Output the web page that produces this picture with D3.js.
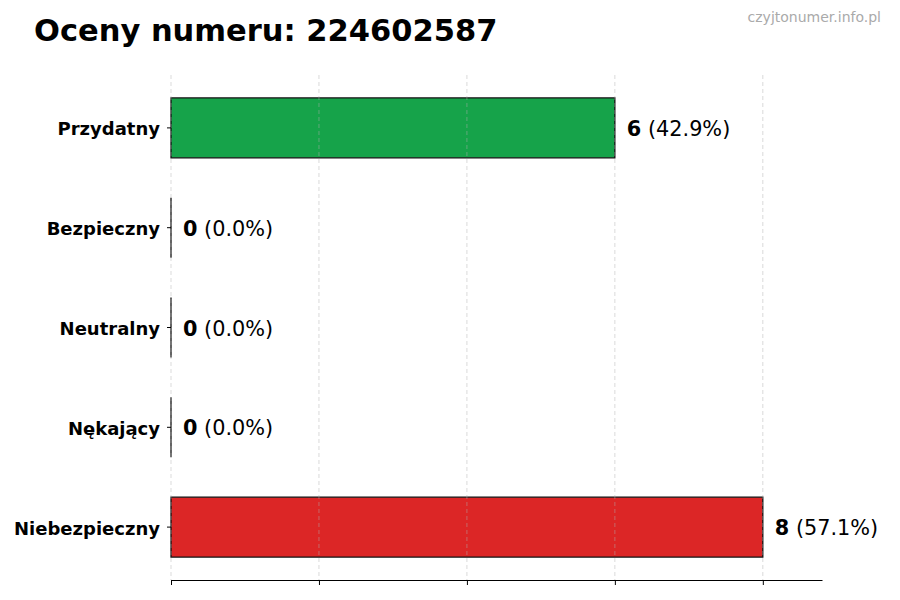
<!DOCTYPE html>
<html>
<head>
<meta charset="utf-8">
<script src="https://cdn.jsdelivr.net/npm/d3@7"></script>
<style>
  body { margin: 0; background: white; }
  svg { font-family: "DejaVu Sans", sans-serif; }
</style>
</head>
<body>
<div id="chart"></div>
<script>
// Chart data
const categories = ["Przydatny", "Bezpieczny", "Neutralny", "Nękający", "Niebezpieczny"];
const counts = [6, 0, 0, 0, 8];
const barColors = ["#16a34a", "#9ca3af", "#6b7280", "#f97316", "#dc2626"];
const xTicks = [0, 2, 4, 6, 8];
const phoneNumber = "224602587";

const total = d3.sum(counts);

const svg = d3.select("#chart")
  .append("svg")
  .attr("width", 900)
  .attr("height", 600);

const margin = { top: 75, right: 78, bottom: 20, left: 171 };
const plotW = 900 - margin.left - margin.right;
const plotH = 580 - margin.top;

const g = svg.append("g")
  .attr("transform", `translate(${margin.left},${margin.top})`);

// Scales
const x = d3.scaleLinear()
  .domain([0, d3.max(counts) * 1.1])
  .range([0, plotW]);

const y = d3.scaleBand()
  .domain(categories)
  .range([0, plotH])
  .paddingInner(0.4)
  .paddingOuter(0.23);

// Bars as paths so zero-width bars still show their edge
g.selectAll(".bar")
  .data(categories)
  .enter()
  .append("path")
  .attr("class", "bar")
  .attr("d", (d, i) => {
    const w = x(counts[i]);
    const y0 = y(d);
    const h = y.bandwidth();
    return `M0,${y0}h${w}v${h}h${-w}Z`;
  })
  .attr("fill", (d, i) => barColors[i])
  .attr("stroke", "#111")
  .attr("stroke-width", 1.3);

// Grid lines (drawn on top, faint)
g.selectAll(".grid")
  .data(xTicks)
  .enter()
  .append("line")
  .attr("class", "grid")
  .attr("x1", d => x(d))
  .attr("x2", d => x(d))
  .attr("y1", 0)
  .attr("y2", plotH)
  .attr("stroke", "#b0b0b0")
  .attr("stroke-opacity", 0.6)
  .attr("stroke-dasharray", "4,3")
  .attr("stroke-width", 0.8);

// Bottom axis: ticks only, no labels
const xAxis = g.append("g")
  .attr("transform", `translate(0,${plotH})`)
  .call(d3.axisBottom(x).tickValues(xTicks).tickSize(5).tickFormat("").tickSizeOuter(0));
xAxis.select(".domain").attr("stroke", "#000").attr("stroke-width", 1);
xAxis.selectAll(".tick line").attr("stroke", "#000");

// Left axis: tick marks and bold labels, no spine
const yAxis = g.append("g")
  .call(d3.axisLeft(y).tickSize(4).tickPadding(7));
yAxis.select(".domain").remove();
yAxis.selectAll(".tick line").attr("stroke", "#000");
yAxis.selectAll(".tick text")
  .attr("fill", "#000")
  .attr("font-family", "DejaVu Sans, sans-serif")
  .attr("font-size", "18px")
  .attr("font-weight", "bold")
  .attr("dy", "0.42em");

// Value labels
const labels = g.selectAll(".value-label")
  .data(categories)
  .enter()
  .append("text")
  .attr("class", "value-label")
  .attr("x", (d, i) => x(counts[i]) + 12)
  .attr("y", d => y(d) + y.bandwidth() / 2 + 1)
  .attr("dominant-baseline", "central")
  .attr("font-size", "20.8px")
  .attr("fill", "#000");

labels.append("tspan")
  .attr("font-weight", "bold")
  .text((d, i) => counts[i]);

labels.append("tspan")
  .text((d, i) => " (" + (counts[i] / total * 100).toFixed(1) + "%)");

// Title
svg.append("text")
  .attr("x", 34)
  .attr("y", 41)
  .attr("font-size", "30.5px")
  .attr("font-weight", "bold")
  .attr("fill", "#000")
  .text("Oceny numeru: " + phoneNumber);

// Watermark
svg.append("text")
  .attr("x", 881)
  .attr("y", 22)
  .attr("text-anchor", "end")
  .attr("font-size", "14px")
  .attr("fill", "#aaaaaa")
  .text("czyjtonumer.info.pl");
</script>
</body>
</html>
